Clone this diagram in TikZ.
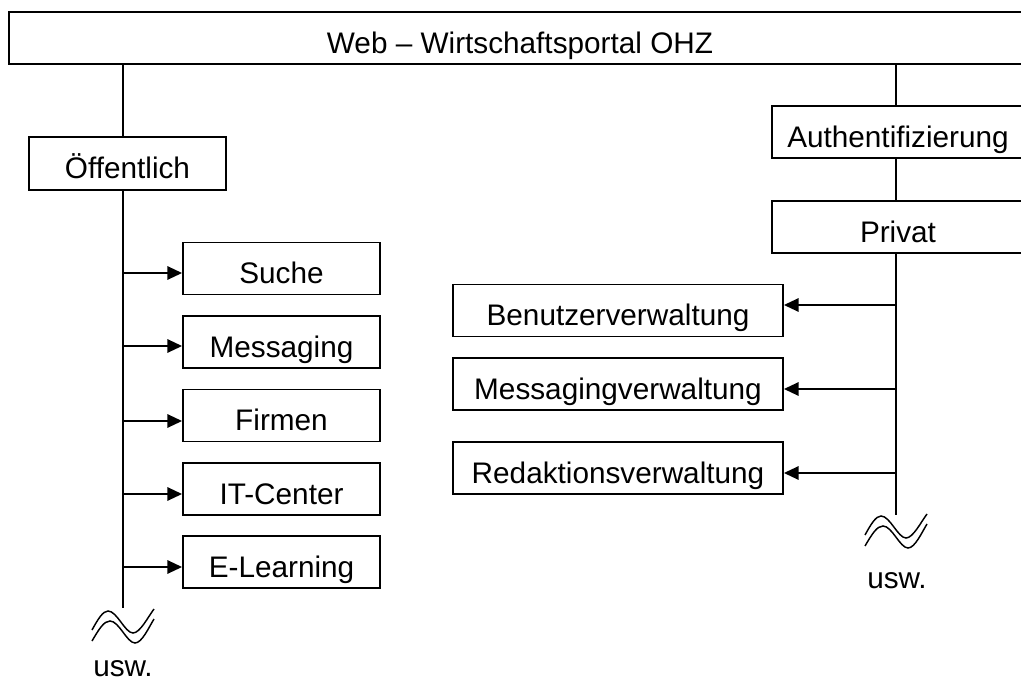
\documentclass[tikz,border=0pt]{standalone}
\usepackage{fontspec}
\setmainfont{Liberation Sans}
\usetikzlibrary{arrows.meta}
\begin{document}
\begin{tikzpicture}[x=0.75pt,y=-0.75pt,
  box/.style={draw, line width=1.4pt, inner xsep=0pt, inner ysep=0pt,
    minimum height=39pt, text height=31pt, text depth=8pt,
    font=\fontsize{22.3}{26}\selectfont},
  ln/.style={line width=1.4pt},
  arr/.style={line width=1.4pt, -{Triangle[length=11pt,width=10pt]}},
  wave/.style={line width=1.1pt},
  lbl/.style={font=\fontsize{22.3}{26}\selectfont, inner sep=0pt, anchor=base},
  usw/.pic={
    \draw[wave] (-31,21) .. controls (-25,10) and (-20,2) .. (-15,2)
      .. controls (-6,2) and (2,24) .. (10,24)
      .. controls (17,24) and (25,8) .. (31,0);
    \draw[wave] (-31,32) .. controls (-24,20) and (-19,12) .. (-13,12)
      .. controls (-4,12) and (4,34) .. (12,34)
      .. controls (19,34) and (26,18) .. (31,10);
  }]
\clip (0,0) rectangle (1021,681);

% top
\node[box, minimum width=766.5pt] (top) at (520,38) {Web – Wirtschaftsportal OHZ};

\coordinate (lx) at (123,0);
\coordinate (rx) at (896,0);

% left branch
\node[box, minimum width=147.75pt, minimum height=39.75pt] (oeff) at (127.5,163.5) {Öffentlich};
\node[box, minimum width=147.75pt] (suche) at (281.5,268.5) {Suche};
\node[box, minimum width=147.75pt] (messaging) at (281.5,342) {Messaging};
\node[box, minimum width=147.75pt] (firmen) at (281.5,415.5) {Firmen};
\node[box, minimum width=147.75pt] (itc) at (281.5,489) {IT-Center};
\node[box, minimum width=147.75pt] (elearn) at (281.5,562) {E-Learning};

\draw[ln] (top.south -| lx) -- (oeff.north -| lx);
\coordinate (lend) at (123,608);
\draw[ln] (oeff.south -| lx) -- (lend);
\coordinate (a1) at (123,273);
\coordinate (a2) at (123,346);
\coordinate (a3) at (123,421);
\coordinate (a4) at (123,494);
\coordinate (a5) at (123,567);
\draw[arr] (a1) -- (suche.west |- a1);
\draw[arr] (a2) -- (messaging.west |- a2);
\draw[arr] (a3) -- (firmen.west |- a3);
\draw[arr] (a4) -- (itc.west |- a4);
\draw[arr] (a5) -- (elearn.west |- a5);
\pic at (123,609) {usw};
\node[lbl] (usw1) at (123,676) {usw.};

% right branch
\node[box, minimum width=189pt] (auth) at (898,132) {Authentifizierung};
\node[box, minimum width=189pt] (privat) at (898,227) {Privat};
\node[box, minimum width=247.5pt] (benutzer) at (618,310.5) {Benutzerverwaltung};
\node[box, minimum width=247.5pt] (msgv) at (618,384) {Messagingverwaltung};
\node[box, minimum width=247.5pt] (redv) at (618,468) {Redaktionsverwaltung};

\draw[ln] (top.south -| rx) -- (auth.north -| rx);
\draw[ln] (auth.south -| rx) -- (privat.north -| rx);
\coordinate (rend) at (896,515);
\draw[ln] (privat.south -| rx) -- (rend);
\coordinate (b1) at (896,305);
\coordinate (b2) at (896,389);
\coordinate (b3) at (896,473);
\draw[arr] (b1) -- (benutzer.east |- b1);
\draw[arr] (b2) -- (msgv.east |- b2);
\draw[arr] (b3) -- (redv.east |- b3);
\pic at (896,514) {usw};
\node[lbl] (usw2) at (897,588) {usw.};
\end{tikzpicture}
\end{document}
